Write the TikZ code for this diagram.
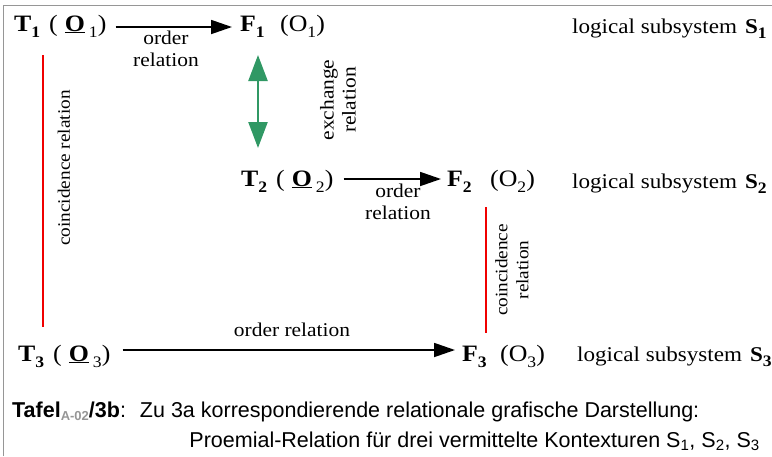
\documentclass[tikz,border=0pt]{standalone}
\usepackage{fontspec}
\setmainfont[FakeStretch=1.1]{Liberation Serif}
\newfontfamily\capfont{Liberation Sans}
\usetikzlibrary{arrows.meta}
\definecolor{framegray}{RGB}{150,150,150}
\definecolor{exgreen}{RGB}{48,152,100}
\definecolor{cored}{RGB}{240,0,0}
\newcommand\bsub[1]{\raisebox{-0.28em}{\fontsize{16}{16}\selectfont\bfseries #1}}
\newcommand\nsub[1]{\raisebox{-0.28em}{\fontsize{16}{16}\selectfont\mdseries #1}}
\newcommand\Tlab[1]{{\bfseries T}\bsub{#1}\hspace{9pt}(\hspace{7pt}\underline{\bfseries O}\hspace{4pt}\nsub{#1})}
\newcommand\Olab[1]{(O\nsub{#1})}
\begin{document}
\begin{tikzpicture}[x=1pt,y=-1pt,
  lab/.style={inner sep=0pt,font=\fontsize{23.5}{24}\selectfont},
  rel/.style={inner sep=0pt,font=\fontsize{19.5}{22}\selectfont,align=center},
  sys/.style={inner sep=0pt,anchor=base west,font=\fontsize{21}{22}\selectfont},
  ordarrow/.style={draw,line width=1.8pt,-{Triangle[length=21pt,width=14pt]}},
  coline/.style={draw=cored,line width=1.4pt},
  exarrow/.style={draw=exgreen,line width=2.4pt,{Triangle[length=26pt,width=19pt]}-{Triangle[length=26pt,width=19pt]}}
]
\useasboundingbox (0,0) rectangle (772,456);
\draw[framegray,line width=1pt] (3,456) -- (3,5) -- (772,5);

% row 1
\node[lab,anchor=base west] (T1) at (14,31) {\Tlab{1}};
\node[lab,anchor=base west] (F1) at (240,31) {\bfseries F\bsub{1}};
\node[lab,anchor=base west] (O1) at (280,31) {\Olab{1}};
\node[sys] (S1) at (572,33) {logical subsystem\hspace{8pt}{\bfseries S}\bsub{1}};
\draw[ordarrow] ([xshift=9pt,yshift=4pt]T1.base east) -- ([xshift=-8pt,yshift=4pt]F1.base west);
\node[rel] (r1) at (166,49) {order\\relation};

% exchange
\coordinate (ea) at (258,55);
\coordinate (eb) at (258,148);
\draw[exarrow] (ea) -- (eb);
\node[rel,rotate=90] (ex) at (338,100) {exchange\\relation};

% coincidence 1
\coordinate (c1a) at (43,55);
\coordinate (c1b) at (43,327);
\draw[coline] (c1a) -- (c1b);
\node[rel,rotate=90,font=\fontsize{17.5}{22}\selectfont] (co1) at (64,168) {coincidence relation};

% row 2
\node[lab,anchor=base west] (T2) at (241,186) {\Tlab{2}};
\node[lab,anchor=base west] (F2) at (447,186) {\bfseries F\bsub{2}};
\node[lab,anchor=base west] (O2) at (490,186) {\Olab{2}};
\node[sys] (S2) at (572,188) {logical subsystem\hspace{8pt}{\bfseries S}\bsub{2}};
\draw[ordarrow] ([xshift=10pt,yshift=7pt]T2.base east) -- ([xshift=-6pt,yshift=7pt]F2.base west);
\node[rel] (r2) at (398,202) {order\\relation};

% coincidence 2
\coordinate (c2a) at (486,207);
\coordinate (c2b) at (486,333);
\draw[coline] (c2a) -- (c2b);
\node[rel,rotate=90,font=\fontsize{17.5}{21}\selectfont] (co2) at (512,270) {coincidence\\relation};

% row 3
\node[lab,anchor=base west] (T3) at (18,361) {\Tlab{3}};
\node[lab,anchor=base west] (F3) at (462,361) {\bfseries F\bsub{3}};
\node[lab,anchor=base west] (O3) at (500,361) {\Olab{3}};
\node[sys] (S3) at (577,361) {logical subsystem\hspace{8pt}{\bfseries S}\bsub{3}};
\draw[ordarrow] ([xshift=12pt,yshift=11pt]T3.base east) -- ([xshift=-7pt,yshift=11pt]F3.base west);
\node[rel,anchor=base] (r3) at (292,336) {order relation};

% caption
\node[inner sep=0pt,anchor=base west,font=\capfont\fontsize{21.5}{22}\selectfont] (cap1) at (12,417)
  {{\bfseries Tafel}{\fontsize{13}{13}\selectfont\color{framegray}\bfseries\raisebox{-0.25em}{A-02}}{\bfseries /3b}:\hspace{14pt}Zu 3a korrespondierende relationale grafische Darstellung:};
\node[inner sep=0pt,anchor=base east,font=\capfont\fontsize{21.5}{22}\selectfont] (cap2) at (760,447)
  {Proemial-Relation für drei vermittelte Kontexturen S\textsubscript{1}, S\textsubscript{2}, S\textsubscript{3}};
\end{tikzpicture}
\end{document}
